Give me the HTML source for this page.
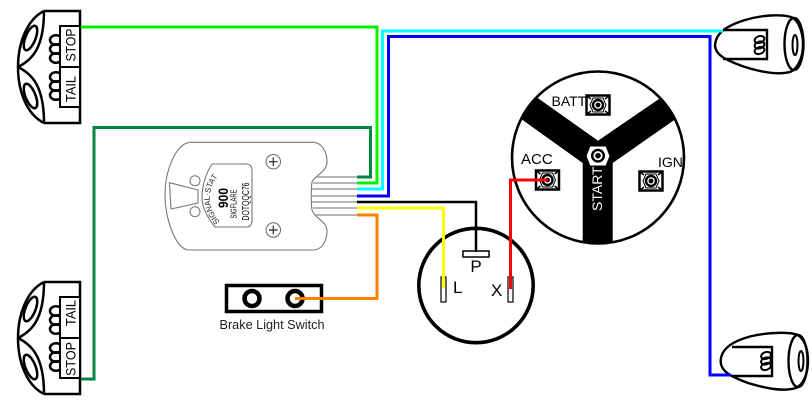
<!DOCTYPE html>
<html><head><meta charset="utf-8"><style>
html,body{margin:0;padding:0;background:#fff}
svg{display:block}
text{font-family:"Liberation Sans",sans-serif;fill:#000}
</style></head><body>
<svg width="812" height="408" viewBox="0 0 812 408" xmlns="http://www.w3.org/2000/svg">
<defs>
<clipPath id="cc"><circle cx="598" cy="157.5" r="86"/></clipPath>
<g id="tail">
<g fill="none" stroke="#000" stroke-width="2.5">
<path d="M44,11 H80 V123 H44"/>
<path d="M44,11 C26,20 18,45 18,67 C18,90 26,114 44,123"/>
<path d="M18,67 C32,60 44,48 44,11"/>
<path d="M18,67 C32,74 44,86 44,123"/>
<ellipse cx="30.5" cy="38" rx="5" ry="13" transform="rotate(22 30.5 38)"/>
<ellipse cx="30.5" cy="96" rx="5" ry="13" transform="rotate(-22 30.5 96)"/>
<ellipse cx="56" cy="40" rx="6" ry="4.8"/><ellipse cx="56" cy="49" rx="6" ry="4.8"/><ellipse cx="56" cy="58" rx="6" ry="4.8"/>
<ellipse cx="56" cy="77" rx="6" ry="4.8"/><ellipse cx="56" cy="86" rx="6" ry="4.8"/><ellipse cx="56" cy="95" rx="6" ry="4.8"/>
</g>
<rect x="60" y="26" width="20" height="81" fill="#fff" stroke="#000" stroke-width="2"/>
<path d="M60,67 H80" stroke="#000" stroke-width="2"/>
</g>
<g id="term">
<rect x="-11.5" y="-9.5" width="23" height="19" fill="#fff" stroke="#000" stroke-width="2.5"/>
<path d="M-11,-9 L-7,-6 M11,-9 L7,-6 M-11,9 L-7,6 M11,9 L7,6" stroke="#000" stroke-width="1.5"/>
<polygon points="-8,0 -5,-7 5,-7 8,0 5,7 -5,7" fill="#fff" stroke="#000" stroke-width="1"/>
<circle r="5" fill="#fff" stroke="#000" stroke-width="2.4"/>
<circle r="2.4" fill="#000"/>
</g>
<g id="coil" fill="none" stroke="#000" stroke-width="2">
<ellipse cx="0" cy="-5.5" rx="5" ry="3.4" transform="rotate(-18 0 -5.5)"/>
<ellipse cx="0" cy="0" rx="5" ry="3.4" transform="rotate(-18 0 0)"/>
<ellipse cx="0" cy="5.5" rx="5" ry="3.4" transform="rotate(-18 0 5.5)"/>
</g>
</defs>

<use href="#tail"/>
<use href="#tail" y="271"/>
<text transform="translate(75.5,45) rotate(-90)" font-size="13.5" text-anchor="middle" textLength="33" lengthAdjust="spacingAndGlyphs">STOP</text>
<text transform="translate(75.5,89) rotate(-90)" font-size="13.5" text-anchor="middle" textLength="26" lengthAdjust="spacingAndGlyphs">TAIL</text>
<text transform="translate(75.5,313) rotate(-90)" font-size="13.5" text-anchor="middle" textLength="26" lengthAdjust="spacingAndGlyphs">TAIL</text>
<text transform="translate(75.5,359) rotate(-90)" font-size="13.5" text-anchor="middle" textLength="34" lengthAdjust="spacingAndGlyphs">STOP</text>

<!-- flasher -->
<path d="M190,142.3 H313 C322,142.5 327,152 327,162 C327,172 315,175 312,182 C311,188 311,204 312,210 C315,219 327,221 327,231 C327,241 322,250 313,250 H188 C175,248 165,218 165,195 C165,172 175,144 190,142.3 Z" fill="#fff" stroke="#777" stroke-width="1.1"/>
<path d="M212,164 H246 Q252,164 252,171 V220 Q252,227 246,227 H215 C206,216 202,206 202,197 C202,186 206,173 212,164 Z" fill="#fff" stroke="#777" stroke-width="1.1"/>
<polygon points="169.5,182.7 198,190 198,203 171,209" fill="#fff" stroke="#777" stroke-width="1.1"/>
<circle cx="195" cy="180.7" r="5" fill="#fff" stroke="#777"/>
<circle cx="195" cy="211.7" r="5" fill="#fff" stroke="#777"/>
<g fill="#fff" stroke="#666">
<circle cx="273.3" cy="161.7" r="7.2"/><circle cx="273.3" cy="230" r="7.2"/>
<path d="M269,161.7 H277.6 M273.3,157.4 V166 M269,230 H277.6 M273.3,225.7 V234.3" stroke="#444" stroke-width="1.4"/>
</g>
<path id="arc" d="M220,222 Q200,198 219,175" fill="none"/>
<text font-size="8" style="fill:#222"><textPath href="#arc" textLength="50" lengthAdjust="spacingAndGlyphs">SIGNAL·STAT</textPath></text>
<text transform="translate(228,198) rotate(-90)" font-size="14" font-weight="bold" text-anchor="middle" textLength="20" lengthAdjust="spacingAndGlyphs">900</text>
<text transform="translate(236.5,204) rotate(-90)" font-size="8.5" text-anchor="middle" textLength="29" lengthAdjust="spacingAndGlyphs">SIGFLARE</text>
<text transform="translate(249,201.500) rotate(-90)" font-size="10" text-anchor="middle" textLength="38" lengthAdjust="spacingAndGlyphs">DOTQQC76</text>
<path d="M316,177 H357 M313,183 H357 M312,189 H357 M312,196 H357 M312,202 H357 M313,208 H357 M316,215 H357" stroke="#8a8a8a" stroke-width="1.2" fill="none"/>

<!-- ignition switch -->
<circle cx="598" cy="157.5" r="86" fill="#fff"/>
<polygon clip-path="url(#cc)" points="510,111 525,89 598,140.7 675,88 690,109 612.7,163 612.7,250 582.7,250 582.7,163" fill="#000"/>
<circle cx="598" cy="157.5" r="86" fill="none" stroke="#000" stroke-width="2.6"/>
<use href="#term" x="598" y="105"/>
<use href="#term" x="547.5" y="180"/>
<use href="#term" x="651" y="181"/>
<polygon points="586,156 590,146 606,146 610,156 606,166 590,166" fill="#fff" stroke="#000"/>
<circle cx="598" cy="155.7" r="5.8" fill="#fff" stroke="#000" stroke-width="2.4"/>
<circle cx="598" cy="155.7" r="2.8" fill="#000"/>
<text x="551.5" y="106" font-size="14">BATT</text>
<text x="521" y="164" font-size="15">ACC</text>
<text x="658" y="167" font-size="14">IGN</text>
<text transform="translate(602,211) rotate(-90)" font-size="14" style="fill:#fff">START</text>

<!-- headlight-switch -->
<circle cx="476" cy="285.5" r="57.2" fill="#fff" stroke="#000" stroke-width="3.6"/>
<rect x="463" y="251" width="26" height="6" fill="#fff" stroke="#000" stroke-width="1.5"/>
<rect x="441" y="277" width="5" height="25" fill="#fff" stroke="#000" stroke-width="1.2"/>
<rect x="508" y="277" width="5" height="25" fill="#fff" stroke="#000" stroke-width="1.2"/>
<text x="476" y="272" font-size="17" text-anchor="middle">P</text>
<text x="453" y="293" font-size="17">L</text>
<text x="491" y="296" font-size="17">X</text>

<!-- brake switch -->
<rect x="226.5" y="285.5" width="95" height="26" fill="#fff" stroke="#000" stroke-width="3.5"/>
<circle cx="252" cy="298.5" r="7.5" fill="#fff" stroke="#000" stroke-width="4.5"/>
<circle cx="295" cy="298.5" r="7.5" fill="#fff" stroke="#000" stroke-width="4.5"/>
<text x="272" y="329" font-size="12.5" text-anchor="middle" textLength="105" lengthAdjust="spacingAndGlyphs" style="fill:#222">Brake Light Switch</text>

<!-- right lamps -->
<g fill="none" stroke="#000" stroke-width="2.4">
<path d="M715,45 C716,33 726,26 745,20 C762,15 780,14 791,17 C799,20 803,33 803,44 C803,56 799,68 790,72 C778,75 760,72 742,66 C726,60 715,55 715,45 Z" fill="#fff"/>
<ellipse cx="794" cy="44" rx="9.5" ry="26"/>
<ellipse cx="795" cy="45" rx="2.5" ry="10" stroke-width="2"/>
<path d="M723,30 H767 V59 H723"/>
<path d="M720.7,361 C721,349 732,341 752,336 C770,332 790,332 798,335 C805,340 808,350 808,361 C808,373 804,384 796,388 C782,392 765,388 748,383 C732,377 720.7,372 720.7,361 Z" fill="#fff"/>
<ellipse cx="798" cy="361" rx="9.5" ry="26"/>
<ellipse cx="801" cy="361" rx="2.5" ry="10" stroke-width="2"/>
<path d="M732,347 H772 V376 H732"/>
</g>
<use href="#coil" x="759.5" y="45"/>
<use href="#coil" x="766" y="361"/>

<!-- wires -->
<g fill="none" stroke-width="3" stroke-linejoin="miter">
<path d="M81,379 H94 V127.500 H370.500 V177 H357" stroke="#008542"/>
<path d="M81,27 H377 V183 H357" stroke="#00f000"/>
<path d="M357,189 H382.500 V31 H723" stroke="#00ffff"/>
<path d="M357,196 H388.500 V36.500 H710 V375 H731" stroke="#0000ff"/>
<path d="M357,202 H476 V252" stroke="#000" stroke-width="2.5"/>
<path d="M357,208 H443.500 V288" stroke="#ffff00"/>
<path d="M357,215 H377 V298.500 H295" stroke="#ff8000"/>
<path d="M510.500,289 V180 H548" stroke="#ff0000"/>
</g>
</svg>
</body></html>
